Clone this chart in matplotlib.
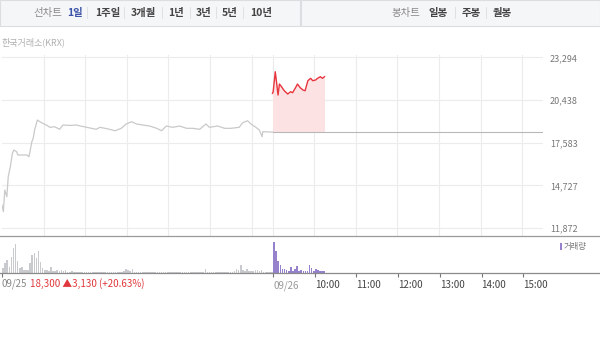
import matplotlib
matplotlib.use("Agg")
import matplotlib.pyplot as plt
from matplotlib.patches import Rectangle
from matplotlib.lines import Line2D

plt.rcParams['font.family'] = ['Noto Sans CJK KR', 'DejaVu Sans']

# --- data (minutes from 09:00 of each day, price in KRW) ---
day1_min = [0, 2, 4, 7, 9, 12, 15, 17, 21, 23, 28, 36, 39, 43, 45, 47, 51, 57, 64, 69,
            76, 83, 88, 98, 107, 122, 136, 141, 151, 163, 172, 179, 187, 194, 203, 213,
            223, 230, 237, 246, 256, 266, 275, 285, 294, 299, 311, 321, 330, 342, 347,
            354, 359, 366, 371, 375, 376, 386, 390]
day1_px = [13419, 12970, 14422, 13974, 15311, 15980, 16875, 17096, 16982, 16762, 16762,
           16762, 16648, 17651, 17878, 18433, 19102, 18921, 18768, 18614, 18654, 18480,
           18768, 18740, 18768, 18614, 18480, 18614, 18525, 18386, 18547, 18835, 18988,
           18835, 18768, 18701, 18547, 18386, 18701, 18614, 18701, 18547, 18547, 18480,
           18835, 18614, 18701, 18547, 18547, 18614, 18921, 19055, 18835, 18614, 18433,
           17986, 18320, 18300, 18300]

day2_min = [0, 1, 4, 6, 8, 10, 13, 17, 22, 26, 29, 34, 36, 40, 44, 47, 51, 55, 58, 62,
            65, 69, 72, 75]
day2_px = [20887, 20994, 22331, 21555, 20773, 21509, 21329, 21061, 20840, 20994, 20930,
           21329, 21509, 21262, 21108, 21061, 21731, 21890, 21731, 21775, 21890, 21998,
           21890, 21998]

prev_close = 18300
y_ticks = [11872, 14727, 17583, 20438, 23294]

# volume per 3-minute bin (shares)
vol_day1 = [4700, 9700, 13000, 6000, 16000, 24700, 28700, 11300, 4700, 6000,
            3000, 3000, 3000, 10000, 18000, 19700, 14700, 22000, 11000, 4700,
            3000, 3000, 2000, 6000, 2000, 1500, 2500, 2000, 3000, 1500,
            2500, 1200, 1000, 1500, 800, 1200, 1000, 600, 900, 1000,
            700, 1200, 800, 600, 900, 500, 700, 600, 800, 500,
            600, 700, 500, 600, 800, 500, 700, 600, 1500, 4000,
            2500, 1500, 3700, 1200, 800, 700, 600, 900, 500, 600,
            700, 500, 600, 800, 500, 600, 1000, 500, 700, 600,
            500, 800, 600, 500, 700, 900, 500, 600, 700, 500,
            600, 800, 500, 600, 700, 900, 1200, 3700, 800, 600,
            500, 700, 600, 500, 800, 600, 700, 500, 600, 900,
            1000, 1500, 4000, 2500, 8000, 3000, 1500, 4000, 2000, 1500,
            2000, 3000, 2500, 1500, 3000, 1200, 1000, 600, 800, 500]
vol_day2 = [31000, 22000, 12000, 8000, 4000, 3300, 2700, 2000, 5300, 2000,
            3300, 6700, 2000, 2700, 2000, 1500, 2000, 7700, 5000, 2000,
            3300, 2700, 1500, 2000, 2000]

hour_labels = ['10:00', '11:00', '12:00', '13:00', '14:00', '15:00']

W, H = 600, 337
fig = plt.figure(figsize=(W / 100, H / 100), dpi=100)


def fx(x):
    return x / W


def fy(y):
    return 1 - y / H


# --- top menu bar ---
fig.patches.append(Rectangle((0, fy(26)), fx(300), 26 / H, transform=fig.transFigure,
                             facecolor='#f5f6f8', edgecolor='#dcdde0', lw=0.8))
fig.patches.append(Rectangle((fx(301), fy(26)), fx(299), 26 / H, transform=fig.transFigure,
                             facecolor='#f5f6f8', edgecolor='#dcdde0', lw=0.8))
menu_left = [('선차트', 33, '#888888', 'normal'), ('1일', 67, '#3b53a8', 'bold'),
             ('1주일', 95, '#444444', 'bold'), ('3개월', 131, '#444444', 'bold'),
             ('1년', 168, '#444444', 'bold'), ('3년', 196, '#444444', 'bold'),
             ('5년', 222, '#444444', 'bold'), ('10년', 250, '#444444', 'bold')]
for t, x, c, w in menu_left:
    fig.text(fx(x), fy(13), t, color=c, fontweight=w, fontsize=7.5, va='center', ha='left')
for x in [87, 124, 162, 190, 216, 243]:
    fig.text(fx(x), fy(13), '|', color='#d5d5d5', fontsize=7, va='center', ha='center')
menu_right = [('봉차트', 392, '#888888', 'normal'), ('일봉', 428, '#444444', 'bold'),
              ('주봉', 462, '#444444', 'bold'), ('월봉', 493, '#444444', 'bold')]
for t, x, c, w in menu_right:
    fig.text(fx(x), fy(13), t, color=c, fontweight=w, fontsize=7.5, va='center', ha='left')
for x in [455, 486]:
    fig.text(fx(x), fy(13), '|', color='#d5d5d5', fontsize=7, va='center', ha='center')

fig.text(fx(1), fy(42), '한국거래소(KRX)', color='#b0b0b0', fontsize=6.5, va='center', ha='left')

# --- price panel ---
ax = fig.add_axes([fx(2), fy(236), fx(541), 181 / H])
ax.set_xlim(0, 780)
ax.set_ylim(11346, 23450)
for s in ax.spines.values():
    s.set_visible(False)
ax.set_yticks(y_ticks)
ax.set_yticklabels([f'{v:,}' for v in y_ticks])
ax.yaxis.tick_right()
ax.tick_params(axis='y', length=0, pad=5, labelsize=6.5, labelcolor='#777777')
ax.set_xticks([60, 120, 180, 240, 300, 360, 390, 450, 510, 570, 630, 690, 750])
ax.tick_params(axis='x', length=0, labelbottom=False)
ax.grid(True, color='#ececec', lw=0.8)
ax.set_axisbelow(True)

ax.plot(day1_min, day1_px, color='#c9c9c9', lw=0.9)
d2x = [390 + m for m in day2_min]
ax.fill_between(d2x, day2_px, prev_close, color='#fde2e4', lw=0)
ax.plot([390, 780], [prev_close, prev_close], color='#b8b8b8', lw=0.8)
ax.plot(d2x, day2_px, color='#e8343c', lw=1.0)

# --- volume panel ---
vax = fig.add_axes([0, fy(272.7), 1, 36.7 / H])
vax.set_xlim(-2.9, 860.4)
vax.set_ylim(0, 36700)
vax.bar([i * 3 + 1.5 for i in range(len(vol_day1))], vol_day1, width=2.3,
        color='#c8cacd', lw=0)
vax.bar([390 + j * 3 + 1.5 for j in range(len(vol_day2))], vol_day2, width=2.3,
        color='#9581cc', lw=0)
vax.spines['left'].set_visible(False)
vax.spines['right'].set_visible(False)
vax.spines['top'].set_color('#9a9a9a')
vax.spines['bottom'].set_color('#8a8a8a')
vax.spines['top'].set_linewidth(0.9)
vax.spines['bottom'].set_linewidth(0.9)
vax.set_yticks([])
vax.set_xticks([0, 390, 450, 510, 570, 630, 690, 750])
vax.set_xticklabels(['', '09/26'] + hour_labels, ha='left')
vax.tick_params(axis='x', length=3, width=0.8, color='#777777', pad=2.5,
                labelsize=7, labelcolor='#444444')
vax.get_xticklabels()[1].set_color('#999999')

fig.text(fx(2), fy(284), '09/25', color='#888888', fontsize=7, va='center', ha='left')
fig.text(fx(30), fy(284), '18,300 ▲3,130 (+20.63%)', color='#e0383c', fontsize=7,
         va='center', ha='left')

fig.patches.append(Rectangle((fx(560), fy(250)), 2 / W, 7 / H, transform=fig.transFigure,
                             facecolor='#9581cc', lw=0))
fig.text(fx(564), fy(246.5), '거래량', color='#777777', fontsize=6, va='center', ha='left')

fig.savefig('out.png', dpi=100)
